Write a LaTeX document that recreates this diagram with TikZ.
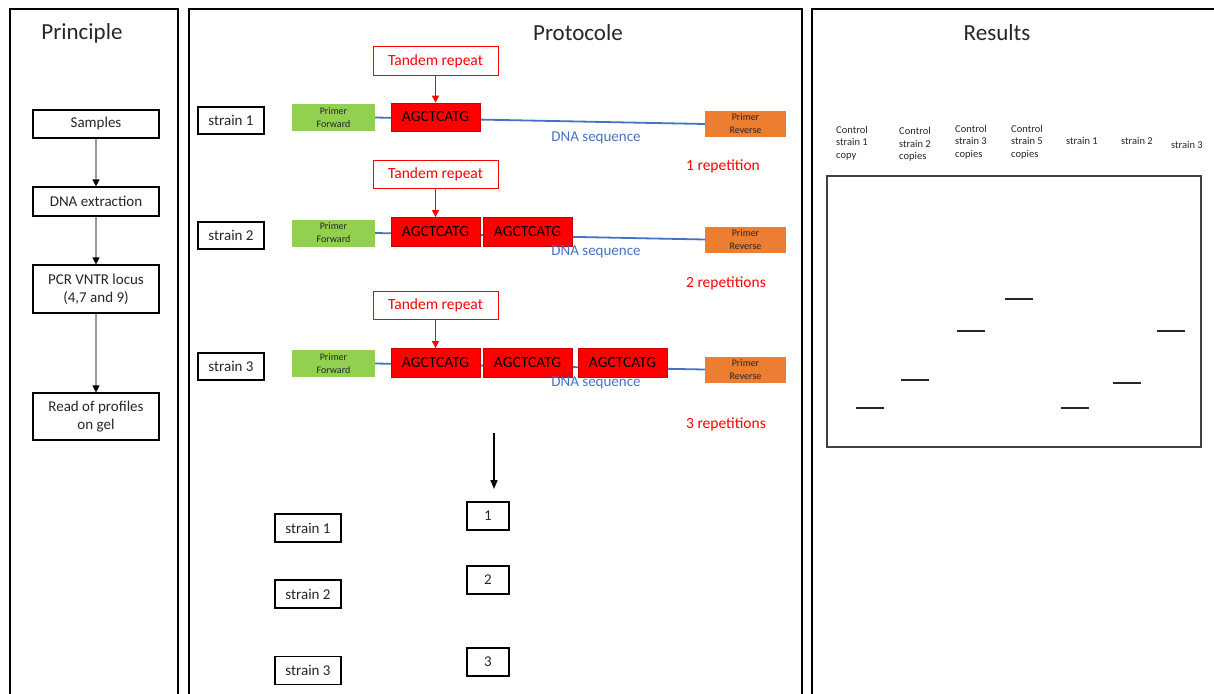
\documentclass[tikz,border=0pt]{standalone}
\usepackage{fontspec}
\setmainfont{Carlito}
\usetikzlibrary{arrows.meta}
\definecolor{pgreen}{HTML}{92D050}
\definecolor{porange}{HTML}{ED7D31}
\definecolor{dnablue}{HTML}{4472C4}
\definecolor{tred}{HTML}{FF0000}
\definecolor{txt}{HTML}{262626}
\tikzset{
  panel/.style={line width=2pt, black},
  title/.style={font=\fontsize{23}{26}\selectfont, text=txt},
  flowbox/.style={draw=black, line width=1.2pt, minimum width=126pt, align=center, inner sep=0pt, font=\fontsize{15}{18}\selectfont, text=txt},
  strainbox/.style={draw=black, line width=1.2pt, minimum width=66pt, minimum height=27pt, inner sep=0pt, font=\fontsize{15}{18}\selectfont, text=txt},
  numbox/.style={draw=black, line width=1.2pt, minimum width=42pt, minimum height=28pt, inner sep=0pt, font=\fontsize{15}{18}\selectfont, text=txt},
  tandembox/.style={draw=tred, line width=1pt, fill=white, minimum width=125pt, minimum height=28pt, inner sep=0pt, text=tred, font=\fontsize{15.5}{18}\selectfont},
  repbox/.style={draw=tred!80!black, line width=0.3pt, fill=tred, minimum width=89pt, minimum height=28.5pt, inner sep=0pt, text=black, font=\fontsize{15.5}{18}\selectfont},
  fwdbox/.style={fill=pgreen, minimum width=83pt, minimum height=27pt, inner sep=0pt, align=center, text=txt, font=\fontsize{10}{13}\selectfont},
  revbox/.style={fill=porange, minimum width=81pt, minimum height=26pt, inner sep=0pt, align=center, text=txt, font=\fontsize{10}{13}\selectfont},
  dnaline/.style={draw=dnablue, line width=1.8pt},
  dnalabel/.style={text=dnablue, font=\fontsize{15}{18}\selectfont},
  replabel/.style={text=tred, font=\fontsize{15.5}{18}\selectfont},
  redarrow/.style={draw=tred, line width=1pt, -{Triangle[length=7pt,width=7pt]}},
  grayarrow/.style={draw=black!40, line width=1.2pt, -{Triangle[length=7pt,width=7pt,color=black]}},
  blackarrow/.style={draw=black, line width=1.5pt, -{Triangle[length=9pt,width=7pt]}},
  gellabel/.style={anchor=north west, align=left, inner sep=0pt, text=txt, font=\fontsize{10.5}{12.5}\selectfont},
  band/.style={draw=black!85, line width=2pt},
}
\begin{document}
\begin{tikzpicture}[x=1pt, y=-1pt]
\useasboundingbox (0,0) rectangle (1214,693);
% panels
\draw[panel] (10,700) -- (10,9) -- (178,9) -- (178,700);
\draw[panel] (189,700) -- (189,9) -- (802,9) -- (802,700);
\draw[panel] (812,700) -- (812,9) -- (1220,9);

% Principle
\node[title] (t1) at (82,33) {Principle};
\node[flowbox, minimum height=28pt] (s1) at (96,124) {Samples};
\node[flowbox, minimum height=29pt] (s2) at (96,201.5) {DNA extraction};
\node[flowbox, minimum height=48pt] (s3) at (96,289) {PCR VNTR locus\\(4,7 and 9)};
\node[flowbox, minimum height=47pt] (s4) at (96,416.5) {Read of profiles\\on gel};
\draw[grayarrow] (s1) -- (s2);
\draw[grayarrow] (s2) -- (s3);
\draw[grayarrow] (s3) -- (s4);

% Protocole
\node[title] (t2) at (578,33) {Protocole};

% row 1
\node[strainbox] (st1) at (231,120.5) {strain 1};
\node[fwdbox] (pf1) at (333.5,117.5) {Primer\\Forward};
\node[revbox] (pr1) at (745.5,124) {Primer\\Reverse};
\draw[dnaline] (pf1.east) -- (pr1.west);
\node[repbox] (r11) at (435.5,117) {AGCTCATG};
\node[tandembox] (tr1) at (435.5,61) {Tandem repeat};
\draw[redarrow] (tr1) -- (r11);
\node[dnalabel] (d1) at (596,138) {DNA sequence};
\node[replabel] (c1) at (723,166) {1 repetition};

% row 2
\node[strainbox] (st2) at (231,235.5) {strain 2};
\node[fwdbox] (pf2) at (333.5,233) {Primer\\Forward};
\node[revbox] (pr2) at (745.5,239.5) {Primer\\Reverse};
\draw[dnaline] (pf2.east) -- (pr2.west);
\node[repbox] (r21) at (435.5,231.5) {AGCTCATG};
\node[repbox] (r22) at (527.5,231.5) {AGCTCATG};
\node[tandembox] (tr2) at (435.5,174) {Tandem repeat};
\draw[redarrow] (tr2) -- (r21);
\node[dnalabel] (d2) at (596,252) {DNA sequence};
\node[replabel] (c2) at (726,283) {2 repetitions};

% row 3
\node[strainbox] (st3) at (231,366.5) {strain 3};
\node[fwdbox] (pf3) at (333.5,363.5) {Primer\\Forward};
\node[revbox] (pr3) at (745.5,369.5) {Primer\\Reverse};
\draw[dnaline] (pf3.east) -- (pr3.west);
\node[repbox] (r31) at (435.5,362.5) {AGCTCATG};
\node[repbox] (r32) at (527.5,362.5) {AGCTCATG};
\node[repbox] (r33) at (622.5,362.5) {AGCTCATG};
\node[tandembox] (tr3) at (435.5,305.5) {Tandem repeat};
\draw[redarrow] (tr3) -- (r31);
\node[dnalabel] (d3) at (596,383) {DNA sequence};
\node[replabel] (c3) at (726,424) {3 repetitions};

% lower part
\coordinate (a0) at (494,433);
\coordinate (a1) at (494,489);
\draw[blackarrow] (a0) -- (a1);
\node[numbox] (n1) at (488,516) {1};
\node[numbox] (n2) at (488,580) {2};
\node[numbox] (n3) at (488,662) {3};
\node[strainbox, minimum height=28pt] (ls1) at (308,528) {strain 1};
\node[strainbox, minimum height=28pt] (ls2) at (308,594) {strain 2};
\node[strainbox, minimum height=28pt] (ls3) at (308,670.5) {strain 3};

% Results
\node[title] (t3) at (997,33) {Results};
\node[gellabel] (g1) at (836,126) {Control\\strain 1\\copy};
\node[gellabel] (g2) at (899,127.5) {Control\\strain 2\\copies};
\node[gellabel] (g3) at (955,125) {Control\\strain 3\\copies};
\node[gellabel] (g4) at (1011,125) {Control\\strain 5\\copies};
\node[gellabel] (g5) at (1066,137) {strain 1};
\node[gellabel] (g6) at (1121,137) {strain 2};
\node[gellabel] (g7) at (1171,141) {strain 3};
\node[draw=black!75, line width=1.5pt, minimum width=374pt, minimum height=271pt, inner sep=0pt] (gel) at (1014,311.5) {};
\draw[band] (856,408) -- (884,408);
\draw[band] (901,380) -- (929,380);
\draw[band] (957,331) -- (985,331);
\draw[band] (1005,299) -- (1033,299);
\draw[band] (1061,408) -- (1089,408);
\draw[band] (1113,383) -- (1141,383);
\draw[band] (1157,331) -- (1185,331);
\end{tikzpicture}
\end{document}
